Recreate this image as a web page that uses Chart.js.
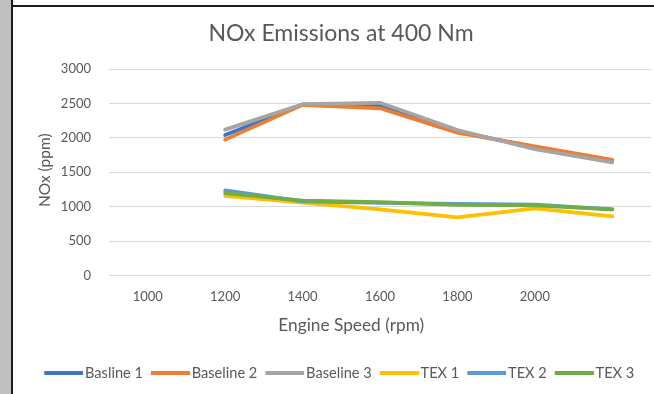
<!DOCTYPE html>
<html>
<head>
<meta charset="utf-8">
<script src="https://cdn.jsdelivr.net/npm/chart.js@4/dist/chart.umd.min.js"></script>
<style>
  body { margin: 0; width: 654px; height: 394px; overflow: hidden; background: #fff; position: relative; }
  .strip { position: absolute; left: 0; top: 0; width: 11px; height: 394px; background: #bfbfbf; }
  .vline { position: absolute; left: 11px; top: 0; width: 2px; height: 394px; background: #1c1c1c; }
  .hline { position: absolute; left: 11px; top: 5px; width: 643px; height: 2px; background: #1c1c1c; }
  #chart { position: absolute; left: 13px; top: 7px; }
</style>
</head>
<body>
<div class="strip"></div>
<div class="vline"></div>
<div class="hline"></div>
<canvas id="chart" width="656" height="387"></canvas>
<script>
// engine speed categories (rpm), last category has no label
const speeds = ['1000', '1200', '1400', '1600', '1800', '2000', '']
const yTicks = [0, 500, 1000, 1500, 2000, 2500, 3000]

// NOx (ppm)
const basline1 = [null, 2040, 2485, 2470, 2100, 1855, 1665]
const baseline2 = [null, 1975, 2480, 2430, 2075, 1875, 1680]
const baseline3 = [null, 2120, 2490, 2510, 2115, 1835, 1645]
const tex1 = [null, 1155, 1057, 960, 843, 974, 858]
const tex2 = [null, 1235, 1075, 1055, 1040, 1030, 960]
const tex3 = [null, 1195, 1087, 1067, 1025, 1018, 960]

const names = ['Basline 1', 'Baseline 2', 'Baseline 3', 'TEX 1', 'TEX 2', 'TEX 3']
const colors = ['#4472C4', '#ED7D31', '#A5A5A5', '#FFC000', '#5B9BD5', '#70AD47']
const values = [basline1, baseline2, baseline3, tex1, tex2, tex3]

const textColor = '#595959'
const font = 'Lato'

// legend marker: a 39px line sitting at the right of the image so the text hugs it
const markerBox = 30
function legendMarker(color) {
    const c = document.createElement('canvas')
    c.width = markerBox + 11
    c.height = 4
    const ctx = c.getContext('2d')
    ctx.fillStyle = color
    ctx.fillRect(c.width - 39, 0, 39, 4)
    return c
}

const datasets = values.map((v, i) => ({
    label: names[i],
    data: v,
    borderColor: colors[i],
    backgroundColor: colors[i],
    borderWidth: 3.75,
    pointRadius: 0,
    pointStyle: legendMarker(colors[i]),
    borderCapStyle: 'round',
    borderJoinStyle: 'round',
    tension: 0,
    // excel draws later series on top
    order: values.length - i
}))

new Chart(document.getElementById('chart'), {
    type: 'line',
    data: { labels: speeds, datasets: datasets },
    options: {
        responsive: false,
        animation: false,
        layout: { padding: { left: 0, right: 0, top: 0, bottom: 3.5 } },
        plugins: {
            title: {
                display: true,
                text: 'NOx Emissions at 400 Nm',
                color: textColor,
                font: { family: font, size: 23, weight: 'normal' },
                padding: { top: 13, bottom: 21.5 }
            },
            legend: {
                position: 'bottom',
                labels: {
                    color: textColor,
                    font: { family: font, size: 14.6 },
                    usePointStyle: true,
                    pointStyleWidth: markerBox,
                    padding: 11.5,
                    sort: (a, b) => a.datasetIndex - b.datasetIndex
                }
            },
            tooltip: { enabled: false }
        },
        scales: {
            x: {
                offset: true,
                grid: { display: false, drawTicks: false },
                border: { display: false },
                ticks: { color: textColor, font: { family: font, size: 13 }, padding: 14, maxRotation: 0, autoSkip: false },
                title: {
                    display: true,
                    // trailing spaces pull the centred title left, as in the original
                    text: 'Engine Speed (rpm)             ',
                    color: textColor,
                    font: { family: font, size: 17.3 },
                    padding: { top: 0, bottom: 19 }
                },
                afterFit: (scale) => { scale.height = 79 }
            },
            y: {
                min: 0,
                max: 3000,
                afterBuildTicks: (scale) => { scale.ticks = yTicks.map(v => ({ value: v })) },
                grid: { color: '#d9d9d9', lineWidth: 1, drawTicks: false },
                border: { display: false },
                ticks: { color: textColor, font: { family: font, size: 13 }, padding: 18, callback: (v) => String(v) },
                title: {
                    display: true,
                    text: ' NOx (ppm)',
                    color: textColor,
                    font: { family: font, size: 15.5 },
                    padding: { top: 22.5, bottom: 0 }
                },
                afterFit: (scale) => { scale.width = 96 }
            },
            // empty right axis: keeps the plot short of the right edge while title and legend stay centred
            yRight: {
                position: 'right',
                display: true,
                grid: { display: false, drawTicks: false },
                border: { display: false },
                ticks: { display: false },
                afterFit: (scale) => { scale.width = 18 }
            }
        }
    }
})
</script>
</body>
</html>
